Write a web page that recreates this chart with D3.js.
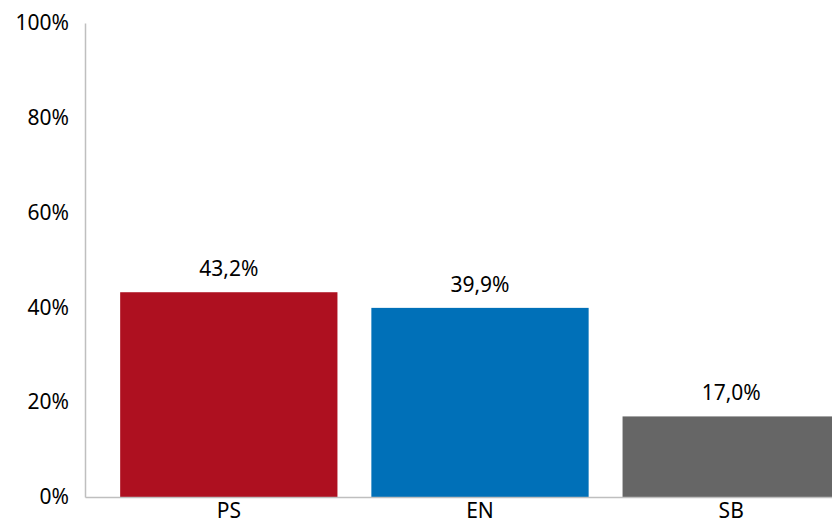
<!DOCTYPE html>
<html>
<head>
<meta charset="utf-8">
<script src="https://cdn.jsdelivr.net/npm/d3@7"></script>
<style>
  body { margin: 0; background: #fff; }
  svg { display: block; font-family: "Noto Sans", sans-serif; }
</style>
</head>
<body>
<svg width="832" height="526"></svg>
<script>
const parties = ["PS", "EN", "SB"];
const shares = [43.2, 39.9, 17.0];
const colors = ["#AE1020", "#0070B8", "#666666"];
const yTicks = [0, 20, 40, 60, 80, 100];

const svg = d3.select("svg");

// plot area (right side runs past the window, as in the original)
const plotLeft = 85, plotRight = 875, plotTop = 23, plotBottom = 497;

const x = d3.scaleBand()
    .domain(parties)
    .range([plotLeft, plotRight])
    .paddingInner(0.135)
    .paddingOuter(0.14);

const y = d3.scaleLinear()
    .domain([0, 100])
    .range([plotBottom, plotTop]);

const fmt = v => v.toFixed(1).replace(".", ",") + "%";

// bars
svg.selectAll("rect.bar")
    .data(parties)
    .join("rect")
    .attr("class", "bar")
    .attr("x", d => x(d))
    .attr("width", x.bandwidth())
    .attr("y", (d, i) => y(shares[i]))
    .attr("height", (d, i) => y(0) - y(shares[i]))
    .attr("fill", (d, i) => colors[i]);

// value labels
svg.selectAll("text.val")
    .data(parties)
    .join("text")
    .attr("class", "val")
    .attr("x", d => x(d) + x.bandwidth() / 2)
    .attr("y", (d, i) => y(shares[i]) - 16)
    .attr("text-anchor", "middle")
    .attr("font-size", 21)
    .attr("fill", "#000")
    .text((d, i) => fmt(shares[i]));

// y axis
const yAxis = svg.append("g")
    .attr("transform", `translate(${plotLeft},0)`)
    .call(d3.axisLeft(y).tickValues(yTicks).tickSize(0).tickPadding(16).tickFormat(d => d + "%"));
yAxis.select(".domain").attr("stroke", "#BFBFBF").attr("stroke-width", 1.5);
yAxis.selectAll("text").attr("font-size", 21).attr("fill", "#000").attr("font-family", "Noto Sans");

// x axis
const xAxis = svg.append("g")
    .attr("transform", `translate(0,${plotBottom})`)
    .call(d3.axisBottom(x).tickSize(0).tickPadding(6));
xAxis.select(".domain").attr("stroke", "#BFBFBF").attr("stroke-width", 1.5);
xAxis.selectAll("text").attr("font-size", 21).attr("fill", "#000").attr("font-family", "Noto Sans");
</script>
</body>
</html>
